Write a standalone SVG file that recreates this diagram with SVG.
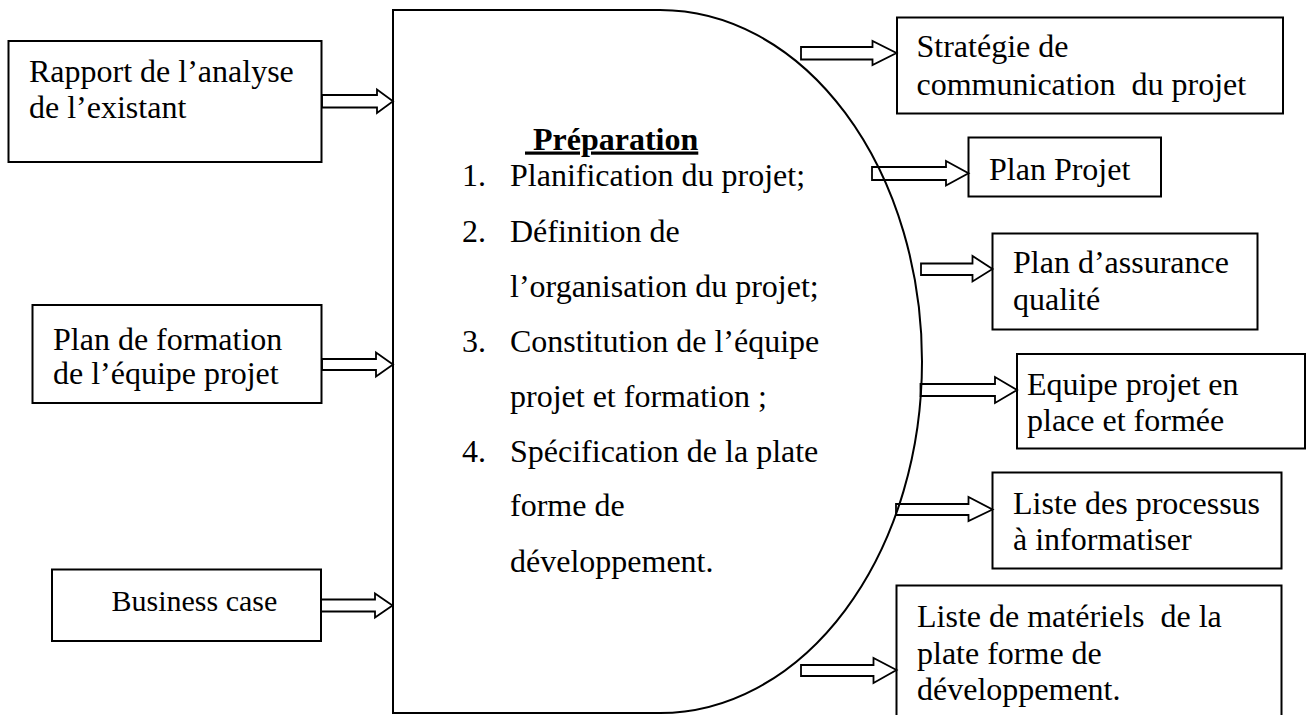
<svg xmlns="http://www.w3.org/2000/svg" width="1311" height="715" viewBox="0 0 1311 715" font-family="'Liberation Serif', 'DejaVu Serif', serif">
  <style>
    .box { fill: #fff; stroke: #000; stroke-width: 2; }
    .arrow { fill: none; stroke: #000; stroke-width: 1.8; stroke-linejoin: miter; }
    .main { fill: #fff; stroke: #000; stroke-width: 2; }
    text { font-family: 'Liberation Serif', 'DejaVu Serif', serif; font-size: 32px; fill: #000; }
    .title { font-weight: bold; text-decoration: underline; }
  </style>

  <rect width="1311" height="715" fill="#fff"/>

  <!-- central process: rectangle closed by a half-ellipse on the right -->
  <g id="preparation">
    <path class="main" d="M393,10 H660 A262,351.5 0 0 1 660,713 H393 Z"/>
    <text class="title" x="525" y="149.5" xml:space="preserve"> Préparation</text>
    <text x="462" y="186">1.</text>
    <text x="510" y="186">Planification du projet;</text>
    <text x="462" y="241.5">2.</text>
    <text x="510" y="241.5">Définition de</text>
    <text x="510" y="296.5">l’organisation du projet;</text>
    <text x="462" y="352">3.</text>
    <text x="510" y="352">Constitution de l’équipe</text>
    <text x="510" y="406.5">projet et formation ;</text>
    <text x="462" y="461.5">4.</text>
    <text x="510" y="461.5">Spécification de la plate</text>
    <text x="510" y="516">forme de</text>
    <text x="510" y="571.5">développement.</text>
  </g>

  <!-- inputs -->
  <g id="in-rapport">
    <rect class="box" x="8.5" y="41" width="313" height="121"/>
    <text x="29" y="82">Rapport de l’analyse</text>
    <text x="29" y="118">de l’existant</text>
  </g>
  <g id="in-formation">
    <rect class="box" x="32.5" y="305" width="289" height="98"/>
    <text x="53" y="350">Plan de formation</text>
    <text x="53" y="384">de l’équipe projet</text>
  </g>
  <g id="in-business">
    <rect class="box" x="52" y="569.5" width="269" height="71.5"/>
    <text x="111.5" y="611" style="font-size:30px">Business case</text>
  </g>

  <!-- outputs -->
  <g id="out-communication">
    <rect class="box" x="897" y="17.5" width="386" height="96"/>
    <text x="916.5" y="56.5">Stratégie de</text>
    <text x="916.5" y="95" xml:space="preserve">communication  du projet</text>
  </g>
  <g id="out-plan">
    <rect class="box" x="968.5" y="137.5" width="192.5" height="59"/>
    <text x="989" y="179.5">Plan Projet</text>
  </g>
  <g id="out-qualite">
    <rect class="box" x="992.5" y="233.5" width="265" height="96"/>
    <text x="1013" y="273">Plan d’assurance</text>
    <text x="1013" y="310">qualité</text>
  </g>
  <g id="out-equipe">
    <rect class="box" x="1017" y="354" width="288" height="94.5"/>
    <text x="1027" y="395">Equipe projet en</text>
    <text x="1027" y="431">place et formée</text>
  </g>
  <g id="out-processus">
    <rect class="box" x="992.5" y="472.5" width="289" height="96"/>
    <text x="1013" y="513.5">Liste des processus</text>
    <text x="1013" y="550">à informatiser</text>
  </g>
  <g id="out-materiels">
    <rect class="box" x="896.5" y="585.5" width="385" height="140"/>
    <text x="917" y="626.5" xml:space="preserve">Liste de matériels  de la</text>
    <text x="917" y="663.5">plate forme de</text>
    <text x="917" y="700">développement.</text>
  </g>

  <!-- block arrows -->
  <g id="connectors">
    <polygon class="arrow" points="322,95 377,95 377,89.5 393,101.3 377,113 377,107.5 322,107.5"/>
    <polygon class="arrow" points="322,359 376,359 376,352.5 393,364.5 376,376.5 376,370 322,370"/>
    <polygon class="arrow" points="321,599.5 375,599.5 375,593.5 392.5,605.5 375,617.5 375,611.5 321,611.5"/>

    <polygon class="arrow" points="801,47 872.5,47 872.5,41 896.5,53 872.5,65 872.5,59.5 801,59.5"/>
    <polygon class="arrow" points="872,167 946,167 946,161 968.5,173.3 946,185.5 946,180 872,180"/>
    <polygon class="arrow" points="921,263.5 972.5,263.5 972.5,256 992.5,269 972.5,281.5 972.5,275 921,275"/>
    <polygon class="arrow" points="920.5,384 995,384 995,377 1017,390 995,403 995,396 920.5,396"/>
    <polygon class="arrow" points="896,504 968.5,504 968.5,497 992.5,509.5 968.5,521 968.5,515 896,515"/>
    <polygon class="arrow" points="801,665 873.5,665 873.5,658 896.5,670 873.5,683 873.5,676 801,676"/>
  </g>
</svg>
